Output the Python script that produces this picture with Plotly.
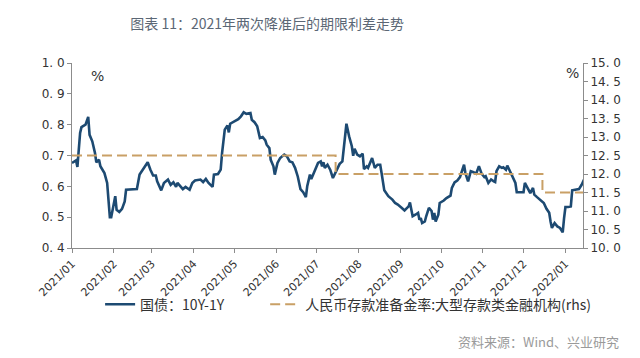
import pandas as pd
import plotly.graph_objects as go

# ---- data ----
base_date = "2021-01-01"
spread_days = [0, 3, 4, 6, 7, 10, 12, 13, 15, 17, 18, 20, 21, 24, 26, 27, 28, 29, 31, 32, 33, 35, 37, 39, 40,
               48, 50, 53, 56, 58, 60, 62, 63, 66, 68, 71, 73, 75, 77, 78, 80, 82, 84, 87, 89, 91, 95, 97, 99,
               101, 104, 105, 108, 110, 111, 113, 115, 116, 117, 120, 123, 125, 127, 129, 132, 133, 135, 137,
               139, 141, 143, 144, 146, 147, 149, 150, 152, 154, 157, 159, 161, 163, 165, 167, 169, 171, 173,
               174, 176, 177, 179, 182, 184, 185, 186, 187, 189, 191, 193, 196, 198, 200, 201, 203, 205, 207,
               208, 209, 211, 213, 215, 216, 218, 219, 222, 224, 226, 228, 229, 230, 231, 234, 237, 239, 241,
               244, 246, 249, 250, 251, 252, 254, 256, 257, 258, 259, 261, 262, 264, 266, 267, 268, 269, 271,
               272, 275, 277, 280, 281, 283, 285, 287, 288, 290, 291, 293, 294, 295, 297, 299, 301, 303, 305,
               306, 308, 310, 312, 313, 314, 316, 318, 319, 321, 322, 324, 326, 328, 329, 332, 334, 335, 337,
               339, 341, 342, 344, 347, 349, 351, 353, 354, 355, 357, 359, 361, 363, 364, 365, 367, 369, 370,
               373, 375, 377, 379]
spread_values = [0.676, 0.684, 0.663, 0.773, 0.792, 0.800, 0.825, 0.767, 0.746, 0.708, 0.678, 0.686, 0.665,
                 0.643, 0.611, 0.546, 0.500, 0.500, 0.546, 0.568, 0.524, 0.517, 0.527, 0.551, 0.589,
                 0.591, 0.638, 0.660, 0.678, 0.654, 0.635, 0.635, 0.616, 0.587, 0.611, 0.622, 0.605, 0.613,
                 0.598, 0.611, 0.600, 0.591, 0.598, 0.589, 0.611, 0.619, 0.622, 0.614, 0.624,
                 0.611, 0.598, 0.638, 0.640, 0.654, 0.708, 0.784, 0.797, 0.775, 0.803, 0.811, 0.818, 0.827,
                 0.840, 0.835, 0.838, 0.816, 0.808, 0.795,
                 0.757, 0.760, 0.749, 0.735, 0.724, 0.686, 0.665, 0.638, 0.676, 0.692, 0.703, 0.697, 0.681,
                 0.678, 0.660, 0.632, 0.591, 0.581, 0.565,
                 0.600, 0.638, 0.624, 0.643, 0.676, 0.681, 0.665, 0.678, 0.660, 0.670, 0.654, 0.627, 0.656,
                 0.673, 0.681, 0.730, 0.803, 0.762, 0.730,
                 0.699, 0.722, 0.703, 0.697, 0.706, 0.656, 0.665, 0.660, 0.692, 0.660, 0.670, 0.670, 0.643,
                 0.613, 0.587, 0.568, 0.557, 0.546, 0.541,
                 0.530, 0.522, 0.535, 0.548, 0.525, 0.503, 0.508, 0.514, 0.492, 0.497, 0.481, 0.486, 0.503,
                 0.530, 0.520, 0.492, 0.514, 0.486, 0.508,
                 0.546, 0.554, 0.562, 0.570, 0.595, 0.613, 0.619, 0.630, 0.643, 0.670, 0.643, 0.616, 0.632,
                 0.649, 0.646, 0.641, 0.665, 0.641, 0.630,
                 0.633, 0.611, 0.622, 0.616, 0.614, 0.649, 0.665, 0.660, 0.662, 0.654, 0.667, 0.649, 0.632,
                 0.611, 0.581, 0.581, 0.581, 0.611, 0.595,
                 0.578, 0.595, 0.573, 0.565, 0.555, 0.546, 0.527, 0.514, 0.486, 0.465, 0.481, 0.470, 0.465,
                 0.451, 0.497, 0.533, 0.533, 0.535, 0.587,
                 0.589, 0.591, 0.605, 0.624]

rrr_dates = ["2021-01-01", "2021-07-15", "2021-12-15", "2022-01-14"]
rrr_values = [12.5, 12.0, 11.5, 11.5]

left_ticks = [0.4, 0.5, 0.6, 0.7, 0.8, 0.9, 1.0]
right_ticks = [10.0, 10.5, 11.0, 11.5, 12.0, 12.5, 13.0, 13.5, 14.0, 14.5, 15.0]

title_text = "图表 11：2021年两次降准后的期限利差走势"
name_spread = "国债：10Y-1Y"
name_rrr = "人民币存款准备金率:大型存款类金融机构(rhs)"
source_text = "资料来源：Wind、兴业研究"

spread_dates = pd.Timestamp(base_date) + pd.to_timedelta(spread_days, unit="D")

NAVY = "#1d4a72"
TAN = "#c9a066"
AX = "#8c8c8c"
TXT = "#333333"

fig = go.Figure()
fig.add_trace(go.Scatter(x=spread_dates, y=spread_values, mode="lines", name=name_spread,
                         line=dict(color=NAVY, width=2.6), yaxis="y", legend="legend"))
fig.add_trace(go.Scatter(x=pd.to_datetime(rrr_dates), y=rrr_values, mode="lines", name=name_rrr,
                         line=dict(color=TAN, width=2, dash="10px,5px", shape="hv"), yaxis="y2",
                         legend="legend2"))

def fmt(v):
    s = f"{v:.1f}"
    return s.replace(".", ". ")

tick_font = dict(family="DejaVu Sans, Liberation Sans, sans-serif", size=12, color=TXT)
legend_font = dict(family="Noto Sans CJK SC", size=14, color=TXT)

fig.update_layout(
    width=640, height=358,
    margin=dict(l=64, r=65, t=55, b=118),
    paper_bgcolor="white", plot_bgcolor="white",
    title=dict(text=title_text, x=0.405, xanchor="center", y=0.955, yanchor="middle",
               font=dict(family="Noto Sans CJK SC", size=14, color="#5b6775")),
    xaxis=dict(type="date", range=["2021-01-01", "2022-01-14"], tickformat="%Y/%m", dtick="M1",
               tick0="2021-01-01", tickangle=-45, ticks="outside", ticklen=4, tickcolor=AX,
               showline=True, linecolor=AX, linewidth=1, showgrid=False, zeroline=False,
               tickfont=dict(family="DejaVu Sans, sans-serif", size=11, color=TXT)),
    yaxis=dict(range=[0.4, 1.0], tickvals=left_ticks, ticktext=[fmt(v) for v in left_ticks],
               ticks="outside", ticklen=4, tickcolor=AX, showline=True, linecolor=AX, linewidth=1,
               showgrid=False, zeroline=False, tickfont=tick_font),
    yaxis2=dict(range=[10, 15], tickvals=right_ticks, ticktext=[fmt(v) for v in right_ticks],
                overlaying="y", side="right", ticks="outside", ticklen=4, tickcolor=AX,
                showline=True, linecolor=AX, linewidth=1, showgrid=False, zeroline=False,
                tickfont=tick_font),
    showlegend=True,
    legend=dict(orientation="h", x=0.055, xanchor="left", y=-0.22, yanchor="top",
                font=legend_font, bgcolor="rgba(0,0,0,0)", itemwidth=30),
    legend2=dict(orientation="h", x=0.378, xanchor="left", y=-0.22, yanchor="top",
                 font=legend_font, bgcolor="rgba(0,0,0,0)", itemwidth=30),
    annotations=[
        dict(text="%", xref="paper", yref="paper", x=(89 - 64) / 511, y=(240 - 68) / 185,
             xanchor="center", yanchor="middle",
             showarrow=False, font=dict(family="DejaVu Sans", size=14, color=TXT)),
        dict(text="%", xref="paper", yref="paper", x=(564 - 64) / 511, y=(240 - 65) / 185,
             xanchor="center", yanchor="middle",
             showarrow=False, font=dict(family="DejaVu Sans", size=14, color=TXT)),
        dict(text=source_text, xref="paper", yref="paper", x=(613 - 64) / 511, xanchor="right",
             y=(240 - 333) / 185, yanchor="middle", showarrow=False,
             font=dict(family="Noto Sans CJK SC", size=13, color="#9a9a9a")),
    ],
)

fig.write_html("out.html")
